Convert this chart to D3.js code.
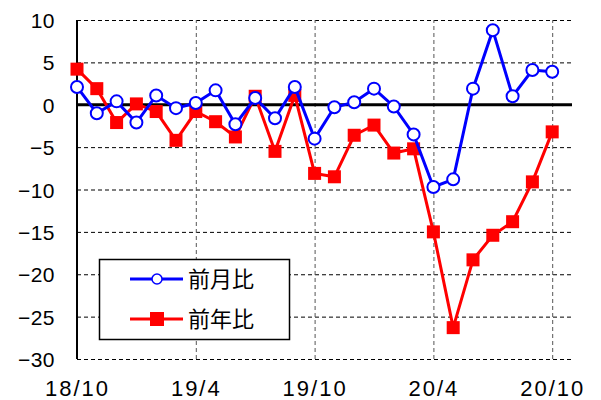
<!DOCTYPE html>
<html><head><meta charset="utf-8">
<script src="https://cdn.jsdelivr.net/npm/d3@7"></script>
<style>body{margin:0;background:#fff}svg{display:block}</style>
</head><body>
<script>
const months = ["18/10","18/11","18/12","19/1","19/2","19/3","19/4","19/5","19/6","19/7","19/8","19/9","19/10","19/11","19/12","20/1","20/2","20/3","20/4","20/5","20/6","20/7","20/8","20/9","20/10"];
const momValues = [2.1,-1.0,0.4,-2.1,1.1,-0.4,0.2,1.7,-2.3,0.8,-1.6,2.1,-4.0,-0.3,0.3,1.9,-0.2,-3.5,-9.7,-8.8,1.9,8.8,1.0,4.1,3.9];
const yoyValues = [4.2,1.9,-2.1,0.1,-0.8,-4.2,-0.8,-2.0,-3.8,1.0,-5.5,1.1,-8.1,-8.5,-3.6,-2.4,-5.7,-5.2,-15.0,-26.3,-18.3,-15.4,-13.8,-9.1,-3.2];
const seriesNames = ["前月比","前年比"];
const yTicks = [10,5,0,-5,-10,-15,-20,-25,-30];
const xTickIdx = [0,6,12,18,24];

const W=601,H=400, L=77, R=572, T=20, B=359;
const svg=d3.select("body").append("svg").attr("width",W).attr("height",H);
const x=d3.scaleLinear().domain([0,25]).range([L,R]);
const y=d3.scaleLinear().domain([-30,10]).range([B,T]);
const fontNum="'Liberation Sans', Arial, sans-serif";

// horizontal grid
svg.append("g").attr("transform",`translate(${L},0)`)
  .call(d3.axisLeft(y).tickValues(yTicks).tickSize(-(R-L)).tickFormat(""))
  .call(g=>g.select(".domain").remove())
  .call(g=>g.selectAll("line").attr("stroke","#000").attr("stroke-width",1).attr("stroke-dasharray","4,3"));
// vertical grid
svg.append("g").attr("transform",`translate(0,${B})`)
  .call(d3.axisBottom(x).tickValues(xTickIdx.slice(1)).tickSize(-(B-T)).tickFormat(""))
  .call(g=>g.select(".domain").remove())
  .call(g=>g.selectAll("line").attr("stroke","#555").attr("stroke-width",1).attr("stroke-dasharray","4,3"));

// y labels
svg.append("g").attr("transform",`translate(${L},0)`)
  .call(d3.axisLeft(y).tickValues(yTicks).tickSize(0).tickPadding(22).tickFormat(d=>d<0?"\u2212"+Math.abs(d):d))
  .call(g=>g.select(".domain").remove())
  .call(g=>g.selectAll("text").attr("font-family",fontNum).attr("font-size",21).attr("letter-spacing","0.5px").attr("fill","#000").attr("dy","0.36em"));
// x labels
svg.append("g").attr("transform",`translate(0,${B})`)
  .call(d3.axisBottom(x).tickValues(xTickIdx).tickSize(0).tickPadding(21).tickFormat(i=>months[i]))
  .call(g=>g.select(".domain").remove())
  .call(g=>g.selectAll("text").attr("font-family",fontNum).attr("font-size",22).attr("letter-spacing","2px").attr("fill","#000"));

// left axis & zero line
svg.append("line").attr("x1",L).attr("x2",L).attr("y1",T).attr("y2",B).attr("stroke","#000").attr("stroke-width",2);
svg.append("line").attr("x1",L).attr("x2",R).attr("y1",y(0)).attr("y2",y(0)).attr("stroke","#000").attr("stroke-width",3);

const line=d3.line().x((d,i)=>x(i)).y(d=>y(d));
// red
svg.append("path").datum(yoyValues).attr("d",line).attr("fill","none").attr("stroke","#ff0000").attr("stroke-width",3);
svg.selectAll(".sq").data(yoyValues).enter().append("rect")
  .attr("x",(d,i)=>x(i)-6.5).attr("y",d=>y(d)-6.5).attr("width",13).attr("height",13).attr("fill","#ff0000");
// blue
svg.append("path").datum(momValues).attr("d",line).attr("fill","none").attr("stroke","#0000ff").attr("stroke-width",3);
svg.selectAll(".ci").data(momValues).enter().append("circle")
  .attr("cx",(d,i)=>x(i)).attr("cy",d=>y(d)).attr("r",6).attr("fill","#fff").attr("stroke","#0000ff").attr("stroke-width",2);

// legend
const lg=svg.append("g");
lg.append("rect").attr("x",99.5).attr("y",259.5).attr("width",190).attr("height",80).attr("fill","#fff").attr("stroke","#000").attr("stroke-width",1.5);
const ly=[279,319];
lg.append("line").attr("x1",130).attr("x2",183).attr("y1",ly[0]).attr("y2",ly[0]).attr("stroke","#0000ff").attr("stroke-width",3);
lg.append("circle").attr("cx",157).attr("cy",ly[0]).attr("r",5).attr("fill","#fff").attr("stroke","#0000ff").attr("stroke-width",1.5);
lg.append("line").attr("x1",130).attr("x2",183).attr("y1",ly[1]).attr("y2",ly[1]).attr("stroke","#ff0000").attr("stroke-width",3);
lg.append("rect").attr("x",150).attr("y",ly[1]-7).attr("width",14).attr("height",14).attr("fill","#ff0000");
seriesNames.forEach((n,k)=>{
  lg.append("text").attr("x",188).attr("y",ly[k]).attr("dy","0.36em").attr("font-family","'Noto Sans CJK JP', sans-serif").attr("font-size",22).attr("fill","#000").text(n);
});
</script>
</body></html>
